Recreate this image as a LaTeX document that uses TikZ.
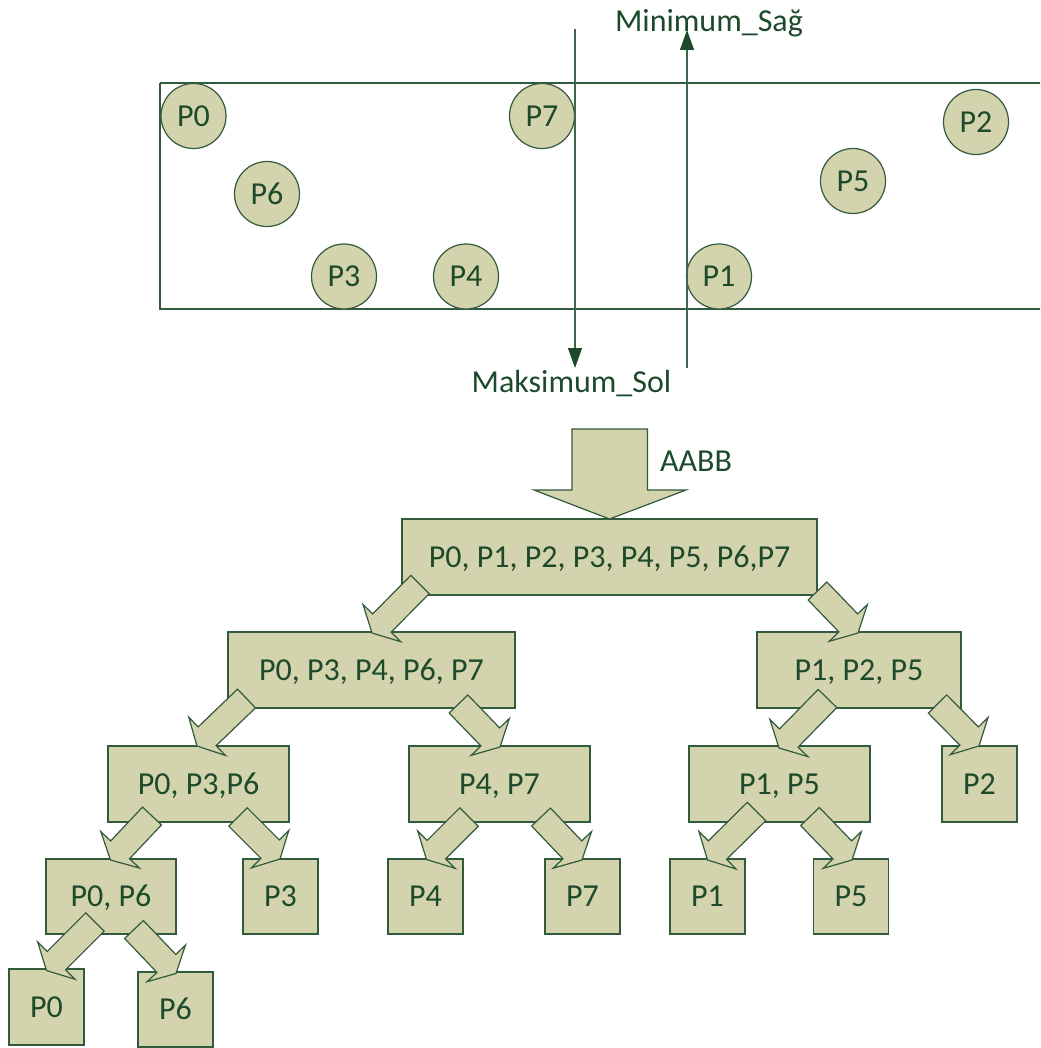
\documentclass[tikz,border=0pt]{standalone}
\usepackage{fontspec}
\setmainfont{Carlito}
\usetikzlibrary{calc,arrows.meta}

\definecolor{olivefill}{RGB}{211,211,173}
\definecolor{darkgreen}{RGB}{28,74,42}
\definecolor{edgegreen}{RGB}{50,90,60}
\definecolor{linegreen}{RGB}{62,102,74}

\tikzset{
  lbl/.style={font=\fontsize{32}{36}\selectfont, text=darkgreen,
    text height=20.6pt, text depth=0pt, inner sep=0pt},
  pt/.style={lbl, circle, draw=edgegreen, line width=1.2pt, fill=olivefill,
    minimum size=65pt},
  setbox/.style={lbl, rectangle, draw=edgegreen, line width=1.2pt, fill=olivefill,
    minimum height=76pt},
  barrow/.style={draw=edgegreen, line width=1.2pt, fill=olivefill, line join=miter},
  vline/.style={draw=linegreen, line width=1.2pt},
  vtip/.style={-{Triangle[length=20pt,width=14pt,fill=darkgreen,color=darkgreen]}},
  region/.style={draw=edgegreen, line width=1.3pt},
}

% block arrow from the shaft start #1 to the tip #2
\newcommand\treearrow[2]{%
  \path (#2) coordinate (ta-e) ($(#2)!14pt!(#1)$) coordinate (ta-h);
  \draw[barrow] ($(#1)!13pt!90:(ta-e)$) -- ($(ta-h)!13pt!90:(ta-e)$)
    -- ($(ta-h)!26.5pt!90:(ta-e)$) -- (ta-e)
    -- ($(ta-h)!26.5pt!-90:(ta-e)$) -- ($(ta-h)!13pt!-90:(ta-e)$)
    -- ($(#1)!13pt!-90:(ta-e)$) -- cycle;}

\begin{document}
\begin{tikzpicture}[x=1pt,y=-1pt]
\clip (0,0) rectangle (1040,1048);
\useasboundingbox (0,0) rectangle (1040,1048);

% ---- point set and its bounding region ----
\draw[region] (160,83) -- (1046,83) (160,83) -- (160,309) -- (1046,309);
\node[pt] (c0) at (193.5,116) {P0};
\node[pt] (c7) at (542,116) {P7};
\node[pt] (c2) at (976,122) {P2};
\node[pt] (c6) at (267,194) {P6};
\node[pt] (c5) at (853,181) {P5};
\node[pt] (c3) at (344,276.5) {P3};
\node[pt] (c4) at (466,276.5) {P4};
\node[pt] (c1) at (719,276.5) {P1};

% ---- splitting lines ----
\coordinate (solTop) at (575,29);
\coordinate (solEnd) at (575,368);
\coordinate (sagBot) at (687,368);
\coordinate (sagEnd) at (687,30);
\draw[vline,vtip] (solTop) -- (solEnd);
\draw[vline,vtip] (sagBot) -- (sagEnd);
\node[lbl] (sag) at (709,21.5) {Minimum\_Sağ};
\node[lbl] (sol) at (571.5,382.5) {Maksimum\_Sol};

% ---- AABB arrow into the tree ----
\node[lbl] (aabb) at (696,461) {AABB};
\draw[barrow] (572,429) -- (647.5,429) -- (647.5,490) -- (686,490) -- (609.5,519)
  -- (534,490) -- (572,490) -- cycle;

% ---- tree boxes ----
\node[setbox, minimum width=415pt] (root) at (609.5,557) {P0, P1, P2, P3, P4, P5, P6,P7};
\node[setbox, minimum width=287pt] (l1) at (371.5,670) {P0, P3, P4, P6, P7};
\node[setbox, minimum width=204pt] (r1) at (859,670) {P1, P2, P5};
\node[setbox, minimum width=181pt] (l2a) at (198.5,784) {P0, P3,P6};
\node[setbox, minimum width=181pt] (l2b) at (499.5,784) {P4, P7};
\node[setbox, minimum width=181pt] (r2a) at (779.5,784) {P1, P5};
\node[setbox, minimum width=75pt] (r2b) at (979.5,784) {P2};
\node[setbox, minimum width=130pt, minimum height=75pt] (l3a) at (111,896.5) {P0, P6};
\node[setbox, minimum width=75pt, minimum height=75pt] (l3b) at (280.5,896.5) {P3};
\node[setbox, minimum width=75pt, minimum height=75pt] (l3c) at (425.5,896.5) {P4};
\node[setbox, minimum width=75pt, minimum height=75pt] (l3d) at (582.5,896.5) {P7};
\node[setbox, minimum width=75pt, minimum height=75pt] (r3a) at (707.5,896.5) {P1};
\node[setbox, minimum width=75pt, minimum height=75pt] (r3b) at (851,896.5) {P5};
\node[setbox, minimum width=75pt, minimum height=76pt] (l4a) at (46.5,1007) {P0};
\node[setbox, minimum width=75pt, minimum height=75pt] (l4b) at (175.5,1009.5) {P6};

% ---- split arrows (drawn over the boxes) ----
\coordinate (a1s) at (420,584.5);   \coordinate (a1e) at (372,633);
\coordinate (a2s) at (817.5,591);   \coordinate (a2e) at (858,633);
\coordinate (a3s) at (246.5,698.5); \coordinate (a3e) at (197,746);
\coordinate (a4s) at (458.5,704);   \coordinate (a4e) at (500,747);
\coordinate (a5s) at (827.5,698.5); \coordinate (a5e) at (779,748);
\coordinate (a6s) at (937.5,704);   \coordinate (a6e) at (979,746);
\coordinate (a7s) at (152,816);     \coordinate (a7e) at (110.5,860);
\coordinate (a8s) at (238,817);     \coordinate (a8e) at (280,859);
\coordinate (a9s) at (95,922);      \coordinate (a9e) at (46.5,970.5);
\coordinate (a10s) at (134,929.5);  \coordinate (a10e) at (176,973.5);
\coordinate (a11s) at (469,817);    \coordinate (a11e) at (426.5,859.5);
\coordinate (a12s) at (541,817);    \coordinate (a12e) at (582,860);
\coordinate (a13s) at (756.5,811.5);\coordinate (a13e) at (707.5,860);
\coordinate (a14s) at (810,816.5);  \coordinate (a14e) at (852,860);
\treearrow{a1s}{a1e}
\treearrow{a2s}{a2e}
\treearrow{a3s}{a3e}
\treearrow{a4s}{a4e}
\treearrow{a5s}{a5e}
\treearrow{a6s}{a6e}
\treearrow{a7s}{a7e}
\treearrow{a8s}{a8e}
\treearrow{a9s}{a9e}
\treearrow{a10s}{a10e}
\treearrow{a11s}{a11e}
\treearrow{a12s}{a12e}
\treearrow{a13s}{a13e}
\treearrow{a14s}{a14e}
\end{tikzpicture}
\end{document}
